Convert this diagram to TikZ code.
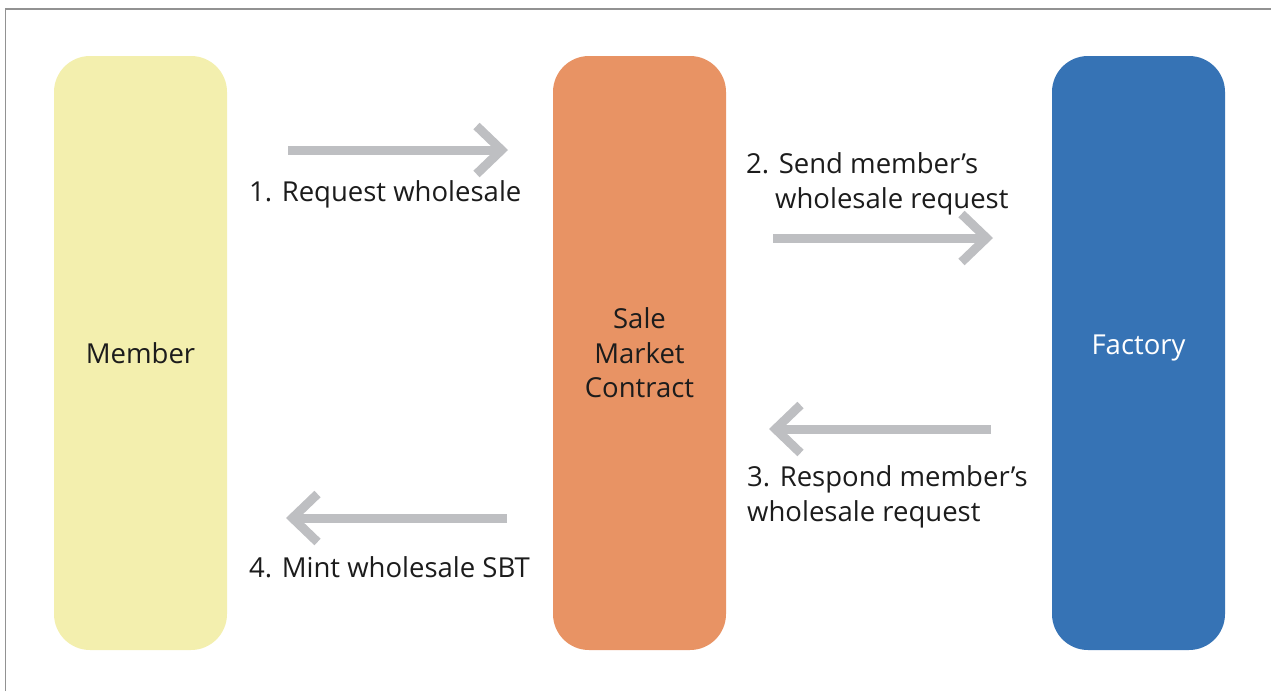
\documentclass[tikz,border=0pt]{standalone}
\usepackage{fontspec}
\setmainfont{Open Sans}
\usetikzlibrary{arrows.meta}

\definecolor{memberfill}{HTML}{F3EFAE}
\definecolor{salefill}{HTML}{E89364}
\definecolor{factoryfill}{HTML}{3673B5}
\definecolor{flowgray}{HTML}{BEBFC2}
\definecolor{textdark}{HTML}{1C1C1C}
\definecolor{framegray}{HTML}{929292}

\begin{document}
\begin{tikzpicture}[x=1pt, y=-1pt,
	every node/.style={font=\fontsize{27.5}{34.5}\selectfont, text=textdark},
	party/.style={rounded corners=36pt, minimum width=173pt, minimum height=594pt, inner sep=0pt, align=center},
	flow/.style={draw=flowgray, line width=9pt, -{Straight Barb[sharp, length=25pt, width=48pt]}},
	step label/.style={inner sep=0pt, align=left}]
		\useasboundingbox (0,0) rectangle (1271,691);
		\draw[framegray, line width=1.5pt] (5.5,691) -- (5.5,9) -- (1271,9);

		\path (140.5,353) node[party, fill=memberfill] (member) {Member}
		(639.5,353) node[party, fill=salefill] (sale) {Sale\\Market\\Contract}
		(1138.5,353) node[party, fill=factoryfill, text=white] (factory) {\raisebox{16pt}{Factory}};

		\coordinate (req a) at (288,150);
		\coordinate (req b) at (508,150);
		\coordinate (send a) at (773,238);
		\coordinate (send b) at (993,238);
		\coordinate (resp a) at (991,429);
		\coordinate (resp b) at (769,429);
		\coordinate (mint a) at (507,518);
		\coordinate (mint b) at (286,518);

		\draw[flow] (req a) -- (req b);
		\draw[flow] (send a) -- (send b);
		\draw[flow] (resp a) -- (resp b);
		\draw[flow] (mint a) -- (mint b);

		% base anchor of a two-line label sits on its last line
		\path (249,201) node[step label, anchor=base west] (req) {1. Request wholesale}
		(746,208) node[step label, anchor=base west] (send) {2. Send member’s\\\hspace*{29pt}wholesale request}
		(747,521) node[step label, anchor=base west] (resp) {3. Respond member’s\\wholesale request}
		(249,577) node[step label, anchor=base west] (mint) {4. Mint wholesale SBT};
	\end{tikzpicture}
\end{document}
